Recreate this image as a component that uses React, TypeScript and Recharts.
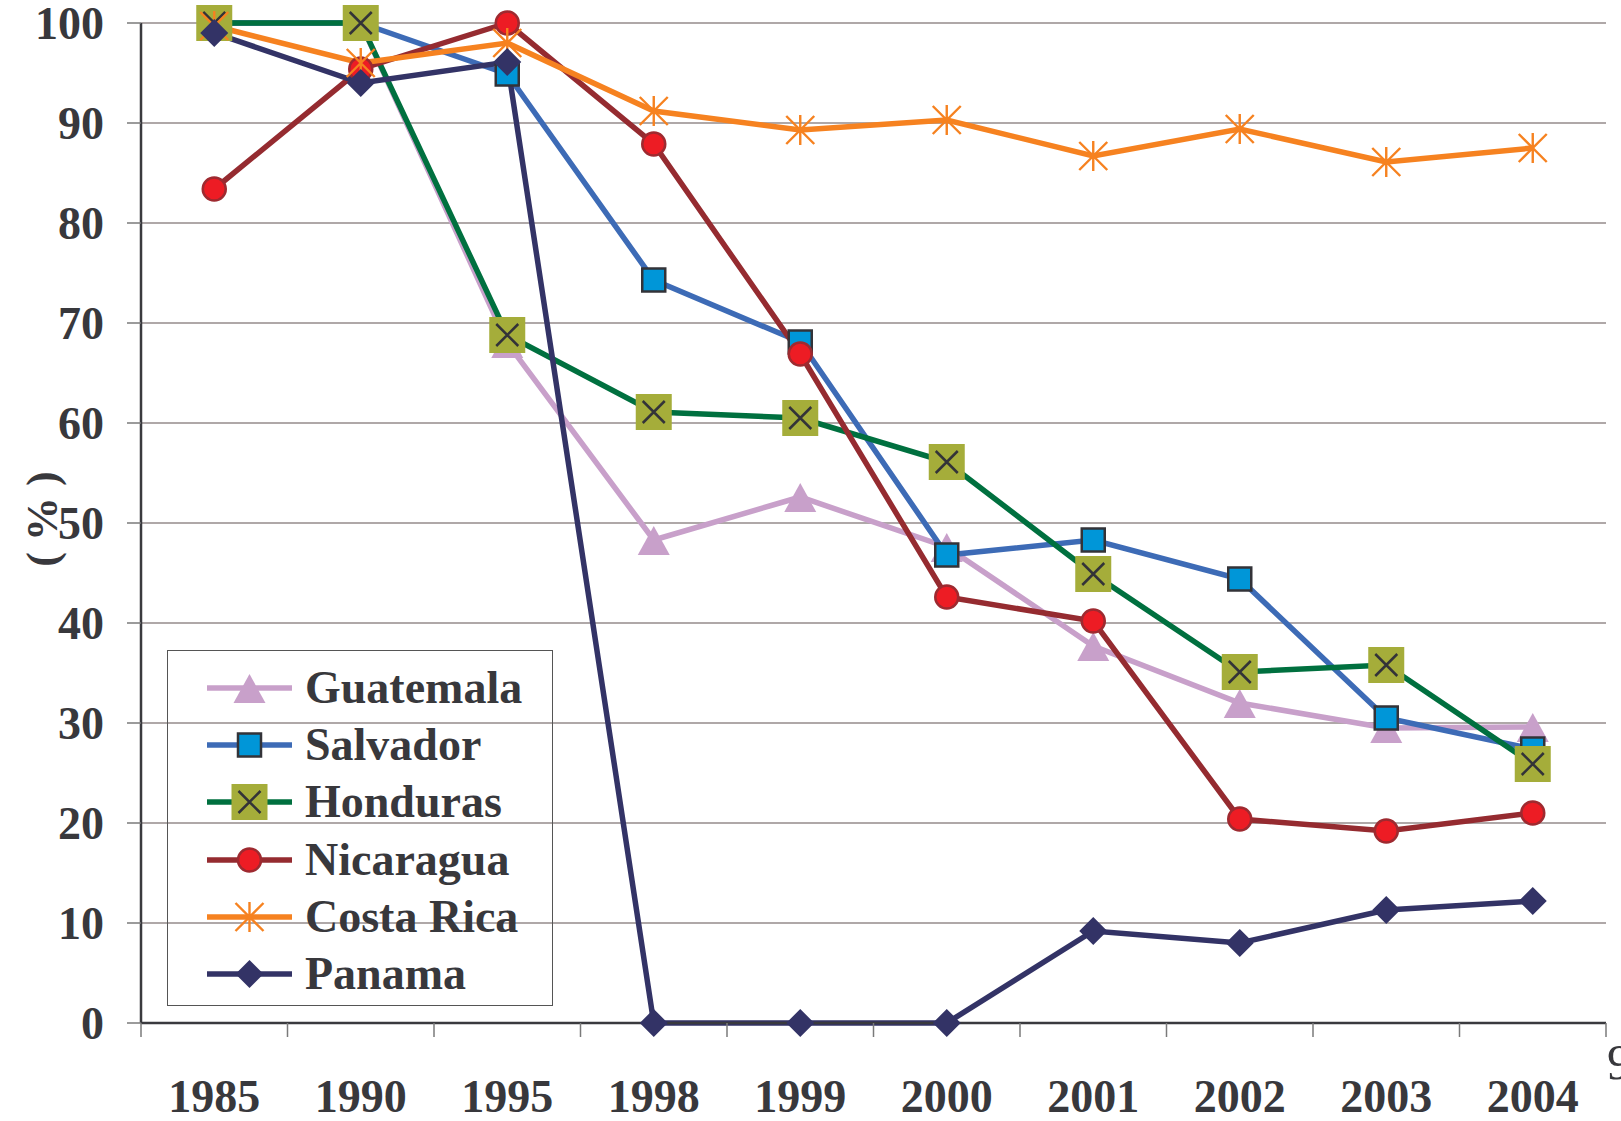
import React from 'react'
import { LineChart, Line, XAxis, YAxis, CartesianGrid, Label } from 'recharts'

const years = ['1985', '1990', '1995', '1998', '1999', '2000', '2001', '2002', '2003', '2004']
const guatemala = [100, 100, 68, 48.3, 52.6, 47.6, 37.7, 32.0, 29.5, 29.6]
const salvador = [100, 100, 94.9, 74.3, 68.1, 46.8, 48.3, 44.4, 30.5, 27.4]
const honduras = [100, 100, 68.8, 61.1, 60.5, 56.1, 44.9, 35.1, 35.8, 25.9]
const nicaragua = [83.4, 95.4, 100, 87.9, 66.9, 42.6, 40.2, 20.4, 19.2, 21.0]
const costaRica = [99.7, 96.0, 98.0, 91.2, 89.3, 90.3, 86.7, 89.4, 86.1, 87.5]
const panama = [99, 94, 96.1, 0, 0, 0, 9.2, 8.0, 11.3, 12.2]
const yTicks = [0, 10, 20, 30, 40, 50, 60, 70, 80, 90, 100]

const data = years.map((year, i) => ({
  year,
  Guatemala: guatemala[i],
  Salvador: salvador[i],
  Honduras: honduras[i],
  Nicaragua: nicaragua[i],
  'Costa Rica': costaRica[i],
  Panama: panama[i],
}))

const TEXT = '#38383c'
const AXIS = '#3a3a3e'
const TICK = '#7a7a7a'
const FONT = '"Liberation Serif", "Times New Roman", serif'
const LABEL_GAP = 56

type MarkerProps = { cx: number; cy: number }

const Triangle = ({ cx, cy }: MarkerProps) => (
  <polygon points={`${cx},${cy - 14} ${cx + 16},${cy + 15} ${cx - 16},${cy + 15}`} fill="#c8a0ca" />
)
const BlueSquare = ({ cx, cy }: MarkerProps) => (
  <rect x={cx - 11.5} y={cy - 11.5} width={23} height={23} fill="#0096d8" stroke="#333338" strokeWidth={2.5} />
)
const CrossSquare = ({ cx, cy }: MarkerProps) => (
  <g>
    <rect x={cx - 18} y={cy - 18} width={36} height={36} fill="#a5ad3a" />
    <path d={`M${cx - 11},${cy - 11}L${cx + 11},${cy + 11}M${cx + 11},${cy - 11}L${cx - 11},${cy + 11}`} stroke="#333338" strokeWidth={2.5} />
  </g>
)
const RedCircle = ({ cx, cy }: MarkerProps) => (
  <circle cx={cx} cy={cy} r={11.5} fill="#ed1c24" stroke="#9e2a30" strokeWidth={2.5} />
)
const Asterisk = ({ cx, cy }: MarkerProps) => (
  <path
    d={`M${cx},${cy - 15}L${cx},${cy + 15}M${cx - 14},${cy - 14}L${cx + 14},${cy + 14}M${cx + 14},${cy - 14}L${cx - 14},${cy + 14}`}
    stroke="#f68220"
    strokeWidth={2.4}
    fill="none"
  />
)
const Diamond = ({ cx, cy }: MarkerProps) => (
  <polygon points={`${cx},${cy - 14} ${cx + 14},${cy} ${cx},${cy + 14} ${cx - 14},${cy}`} fill="#333366" />
)

const series = [
  { key: 'Guatemala', color: '#c8a0ca', Marker: Triangle },
  { key: 'Salvador', color: '#3d6bb6', Marker: BlueSquare },
  { key: 'Honduras', color: '#00703f', Marker: CrossSquare },
  { key: 'Nicaragua', color: '#952b30', Marker: RedCircle },
  { key: 'Costa Rica', color: '#f68220', Marker: Asterisk },
  { key: 'Panama', color: '#333366', Marker: Diamond },
]

// year label centred in its band, tick marks on the band edges
const YearTick = (props: any) => {
  const { x, y, payload, index } = props
  const half = payload && payload.offset ? payload.offset : 0
  const axisY = y - LABEL_GAP
  const last = index === years.length - 1
  return (
    <g>
      <line x1={x - half} x2={x - half} y1={axisY} y2={axisY + 14} stroke={TICK} strokeWidth={1.5} />
      {last && <line x1={x + half} x2={x + half} y1={axisY} y2={axisY + 14} stroke={TICK} strokeWidth={1.5} />}
      <text x={x} y={y} dy="0.71em" textAnchor="middle" fontFamily={FONT} fontWeight="bold" fontSize={46} fill={TEXT}>
        {payload.value}
      </text>
    </g>
  )
}

const YLabel = (props: any) => {
  const vb = props.viewBox || { x: 0, y: 0, width: 0, height: 0 }
  const x = vb.x + 42
  const y = vb.y + vb.height / 2 - 4
  return (
    <text
      x={x}
      y={y}
      transform={`rotate(-90, ${x}, ${y})`}
      textAnchor="middle"
      dominantBaseline="central"
      fontFamily={FONT}
      fontWeight="bold"
      fontSize={44}
      fill={TEXT}
    >
      ( % )
    </text>
  )
}

function ChartLegend() {
  return (
    <div
      style={{
        position: 'absolute',
        left: 167,
        top: 650,
        width: 386,
        height: 356,
        border: '1.5px solid #555',
        boxSizing: 'border-box',
        paddingTop: 8,
      }}
    >
      {series.map((s) => (
        <div key={s.key} style={{ display: 'flex', alignItems: 'center', height: 57.3 }}>
          <svg width={100} height={40} style={{ marginLeft: 34, overflow: 'visible' }}>
            <line x1={5} y1={20} x2={90} y2={20} stroke={s.color} strokeWidth={5.5} />
            <s.Marker cx={47.5} cy={20} />
          </svg>
          <span
            style={{
              fontFamily: FONT,
              fontWeight: 'bold',
              fontSize: 46,
              color: TEXT,
              marginLeft: 3,
              lineHeight: 1,
            }}
          >
            {s.key}
          </span>
        </div>
      ))}
    </div>
  )
}

export default function App() {
  return (
    <div
      style={{
        position: 'absolute',
        left: 0,
        top: 0,
        width: 1621,
        height: 1121,
        overflow: 'hidden',
        background: '#fff',
      }}
    >
      <LineChart width={1621} height={1121} data={data} margin={{ top: 23, right: 15, left: 0, bottom: 0 }}>
        <CartesianGrid xAxisId="cat" yAxisId="left" vertical={false} stroke="#958b8b" strokeWidth={1.5} />
        <XAxis
          xAxisId="cat"
          dataKey="year"
          scale="band"
          height={98}
          axisLine={{ stroke: AXIS, strokeWidth: 2.5 }}
          tickLine={false}
          tickSize={0}
          tickMargin={LABEL_GAP}
          interval={0}
          tick={YearTick}
        />
        <XAxis
          xAxisId="top"
          orientation="top"
          dataKey="year"
          scale="band"
          height={0}
          tick={false}
          tickLine={false}
          axisLine={{ stroke: AXIS, strokeWidth: 2.5 }}
        />
        <YAxis
          yAxisId="left"
          width={141}
          domain={[0, 100]}
          ticks={yTicks}
          interval={0}
          tickSize={14}
          tickMargin={23}
          tickLine={{ stroke: TICK, strokeWidth: 1.5 }}
          axisLine={{ stroke: AXIS, strokeWidth: 2.5 }}
          tick={{ fontFamily: FONT, fontWeight: 'bold', fontSize: 46, fill: TEXT }}
        >
          <Label content={YLabel} />
        </YAxis>
        <YAxis
          yAxisId="right"
          orientation="right"
          width={0}
          domain={[0, 100]}
          tick={false}
          tickLine={false}
          axisLine={{ stroke: AXIS, strokeWidth: 2.5 }}
        />
        {series.map((s) => (
          <Line
            key={s.key}
            xAxisId="cat"
            yAxisId="left"
            dataKey={s.key}
            stroke={s.color}
            strokeWidth={5.5}
            isAnimationActive={false}
            activeDot={false}
            dot={(p: any) => (
              <g key={`${s.key}-${p.index}`}>
                <s.Marker cx={p.cx} cy={p.cy} />
              </g>
            )}
          />
        ))}
      </LineChart>
      <ChartLegend />
      <div
        style={{
          position: 'absolute',
          left: 1607,
          top: 1037,
          fontFamily: FONT,
          fontSize: 50,
          lineHeight: 1,
          color: TEXT,
        }}
      >
        9
      </div>
    </div>
  )
}
